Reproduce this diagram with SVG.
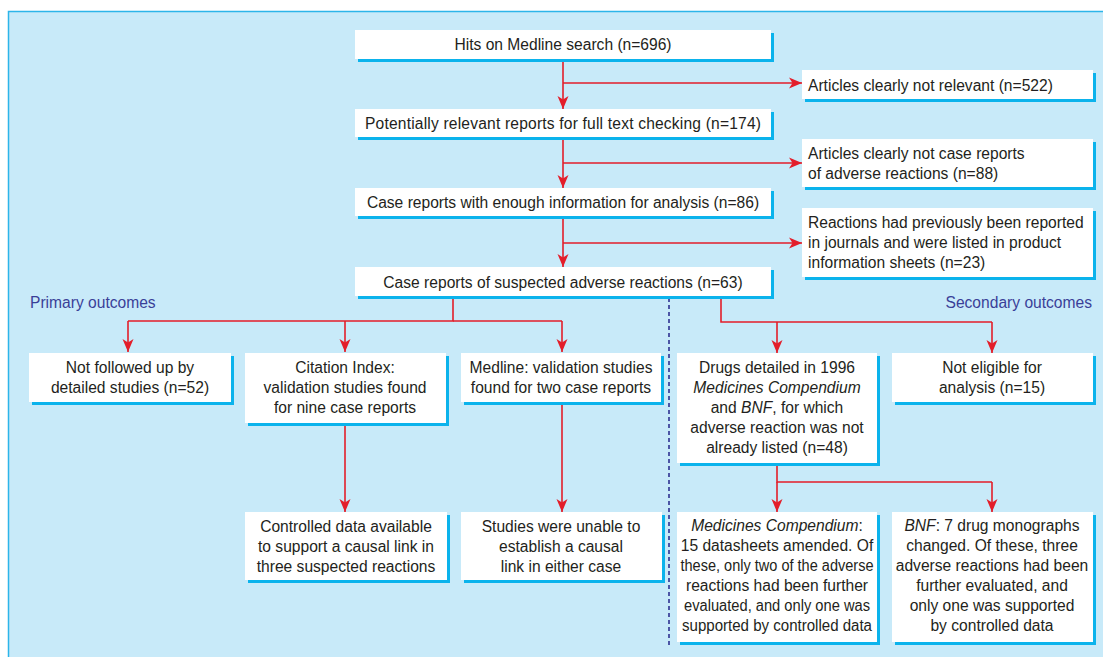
<svg xmlns="http://www.w3.org/2000/svg" width="1103" height="657" viewBox="0 0 1103 657">
<defs>
<marker id="ah" markerUnits="userSpaceOnUse" markerWidth="16" markerHeight="12" viewBox="-13 -6 14 12" refX="0" refY="0" orient="auto">
<path d="M0,0 L-13,-5.5 L-9.5,0 L-13,5.5 Z" fill="#e31e2a"/>
</marker>
</defs>
<style>
.bg{fill:#c8eaf9;stroke:#2cb5e9;stroke-width:1.5}
.sh{fill:#0bb3ec}
.bx{fill:#ffffff}
text{font-family:"Liberation Sans",Arial,sans-serif;font-size:15.6px;fill:#231f20}
.c{text-anchor:middle}
.lab{fill:#3a3f98;font-size:15.6px}
.ln{fill:none;stroke:#e31e2a;stroke-width:1.6}
.ar{fill:none;stroke:#e31e2a;stroke-width:1.6;marker-end:url(#ah)}
.dv{fill:none;stroke:#2e3192;stroke-width:1.6;stroke-dasharray:4 3}
</style>
<rect class="bg" x="8.5" y="11.5" width="1100" height="650"/>
<text class="lab" x="30" y="308">Primary outcomes</text>
<text class="lab" x="1092" y="308" text-anchor="end">Secondary outcomes</text>
<line class="dv" x1="669" y1="298" x2="669" y2="645"/>
<g id="connectors">
<line class="ln" x1="563" y1="59" x2="563" y2="83"/>
<line class="ar" x1="563" y1="83" x2="563" y2="109"/>
<line class="ar" x1="563" y1="83" x2="802" y2="83"/>
<line class="ln" x1="563" y1="137" x2="563" y2="163"/>
<line class="ar" x1="563" y1="163" x2="563" y2="188"/>
<line class="ar" x1="563" y1="163" x2="802" y2="163"/>
<line class="ln" x1="563" y1="216" x2="563" y2="243"/>
<line class="ar" x1="563" y1="243" x2="563" y2="267"/>
<line class="ar" x1="563" y1="243" x2="802" y2="243"/>
<polyline class="ln" points="453,296 453,321 128,321"/>
<line class="ln" x1="453" y1="321" x2="562" y2="321"/>
<line class="ar" x1="128" y1="321" x2="128" y2="352"/>
<line class="ar" x1="345" y1="321" x2="345" y2="352"/>
<line class="ar" x1="562" y1="321" x2="562" y2="352"/>
<polyline class="ln" points="721,296 721,322 992,322"/>
<line class="ar" x1="777" y1="322" x2="777" y2="353"/>
<line class="ar" x1="992" y1="322" x2="992" y2="353"/>
<line class="ar" x1="345" y1="423" x2="345" y2="512"/>
<line class="ar" x1="562" y1="402" x2="562" y2="512"/>
<polyline class="ln" points="777,463 777,482 992,482"/>
<line class="ar" x1="777" y1="482" x2="777" y2="512"/>
<line class="ar" x1="992" y1="482" x2="992" y2="512"/>
</g>
<g id="n1"><rect class="sh" x="358" y="33" width="416" height="29"/><rect class="bx" x="355" y="30" width="416" height="29"/>
<text class="c" x="563" y="49.5">Hits on Medline search (n=696)</text></g>
<g id="n2"><rect class="sh" x="358" y="112" width="416" height="28"/><rect class="bx" x="355" y="109" width="416" height="28"/>
<text class="c" x="563" y="128.5" textLength="396">Potentially relevant reports for full text checking (n=174)</text></g>
<g id="n3"><rect class="sh" x="358" y="191" width="416" height="28"/><rect class="bx" x="355" y="188" width="416" height="28"/>
<text class="c" x="563" y="207.5">Case reports with enough information for analysis (n=86)</text></g>
<g id="n4"><rect class="sh" x="358" y="270" width="416" height="29"/><rect class="bx" x="355" y="267" width="416" height="29"/>
<text class="c" x="563" y="287.5">Case reports of suspected adverse reactions (n=63)</text></g>
<g id="r1"><rect class="sh" x="805" y="73" width="291" height="29"/><rect class="bx" x="802" y="70" width="291" height="29"/>
<text x="808" y="90.5">Articles clearly not relevant (n=522)</text></g>
<g id="r2"><rect class="sh" x="805" y="142" width="291" height="48"/><rect class="bx" x="802" y="139" width="291" height="48"/>
<text x="808" y="158.5">Articles clearly not case reports</text><text x="808" y="178.5">of adverse reactions (n=88)</text></g>
<g id="r3"><rect class="sh" x="805" y="211" width="291" height="69"/><rect class="bx" x="802" y="208" width="291" height="69"/>
<text x="808" y="227.5">Reactions had previously been reported</text><text x="808" y="247.5">in journals and were listed in product</text><text x="808" y="267.5">information sheets (n=23)</text></g>
<g id="p1"><rect class="sh" x="32" y="356" width="202" height="49"/><rect class="bx" x="29" y="353" width="202" height="49"/>
<text class="c" x="130" y="372.5">Not followed up by</text><text class="c" x="130" y="392.5">detailed studies (n=52)</text></g>
<g id="p2"><rect class="sh" x="248" y="356" width="201" height="70"/><rect class="bx" x="245" y="353" width="201" height="70"/>
<text class="c" x="345" y="372.5">Citation Index:</text><text class="c" x="345" y="392.5">validation studies found</text><text class="c" x="345" y="412.5">for nine case reports</text></g>
<g id="p3"><rect class="sh" x="464" y="356" width="200" height="49"/><rect class="bx" x="461" y="353" width="200" height="49"/>
<text class="c" x="561" y="372.5">Medline: validation studies</text><text class="c" x="561" y="392.5">found for two case reports</text></g>
<g id="s1"><rect class="sh" x="680" y="356" width="200" height="110"/><rect class="bx" x="677" y="353" width="200" height="110"/>
<text class="c" x="777" y="372.5">Drugs detailed in 1996</text><text class="c" x="777" y="392.5" font-style="italic">Medicines Compendium</text><text class="c" x="777" y="412.5">and <tspan font-style="italic">BNF</tspan>, for which</text><text class="c" x="777" y="432.5">adverse reaction was not</text><text class="c" x="777" y="452.5">already listed (n=48)</text></g>
<g id="s2"><rect class="sh" x="895" y="356" width="201" height="49"/><rect class="bx" x="892" y="353" width="201" height="49"/>
<text class="c" x="992" y="372.5">Not eligible for</text><text class="c" x="992" y="392.5">analysis (n=15)</text></g>
<g id="p2b"><rect class="sh" x="248" y="515" width="202" height="68"/><rect class="bx" x="245" y="512" width="202" height="68"/>
<text class="c" x="346" y="531.5">Controlled data available</text><text class="c" x="346" y="551.5">to support a causal link in</text><text class="c" x="346" y="571.5">three suspected reactions</text></g>
<g id="p3b"><rect class="sh" x="464" y="515" width="201" height="68"/><rect class="bx" x="461" y="512" width="201" height="68"/>
<text class="c" x="561" y="531.5">Studies were unable to</text><text class="c" x="561" y="551.5">establish a causal</text><text class="c" x="561" y="571.5">link in either case</text></g>
<g id="s1a"><rect class="sh" x="680" y="515" width="200" height="130"/><rect class="bx" x="677" y="512" width="200" height="130"/>
<text class="c" x="777" y="530.5"><tspan font-style="italic">Medicines Compendium</tspan>:</text><text class="c" x="777" y="550.5">15 datasheets amended. Of</text><text class="c" x="777" y="570.5" textLength="193" lengthAdjust="spacingAndGlyphs">these, only two of the adverse</text><text class="c" x="777" y="590.5">reactions had been further</text><text class="c" x="777" y="610.5" textLength="186" lengthAdjust="spacingAndGlyphs">evaluated, and only one was</text><text class="c" x="777" y="630.5" textLength="190" lengthAdjust="spacingAndGlyphs">supported by controlled data</text></g>
<g id="s1b"><rect class="sh" x="895" y="515" width="201" height="130"/><rect class="bx" x="892" y="512" width="201" height="130"/>
<text class="c" x="992" y="530.5"><tspan font-style="italic">BNF</tspan>: 7 drug monographs</text><text class="c" x="992" y="550.5">changed. Of these, three</text><text class="c" x="992" y="570.5">adverse reactions had been</text><text class="c" x="992" y="590.5">further evaluated, and</text><text class="c" x="992" y="610.5">only one was supported</text><text class="c" x="992" y="630.5">by controlled data</text></g>
</svg>
